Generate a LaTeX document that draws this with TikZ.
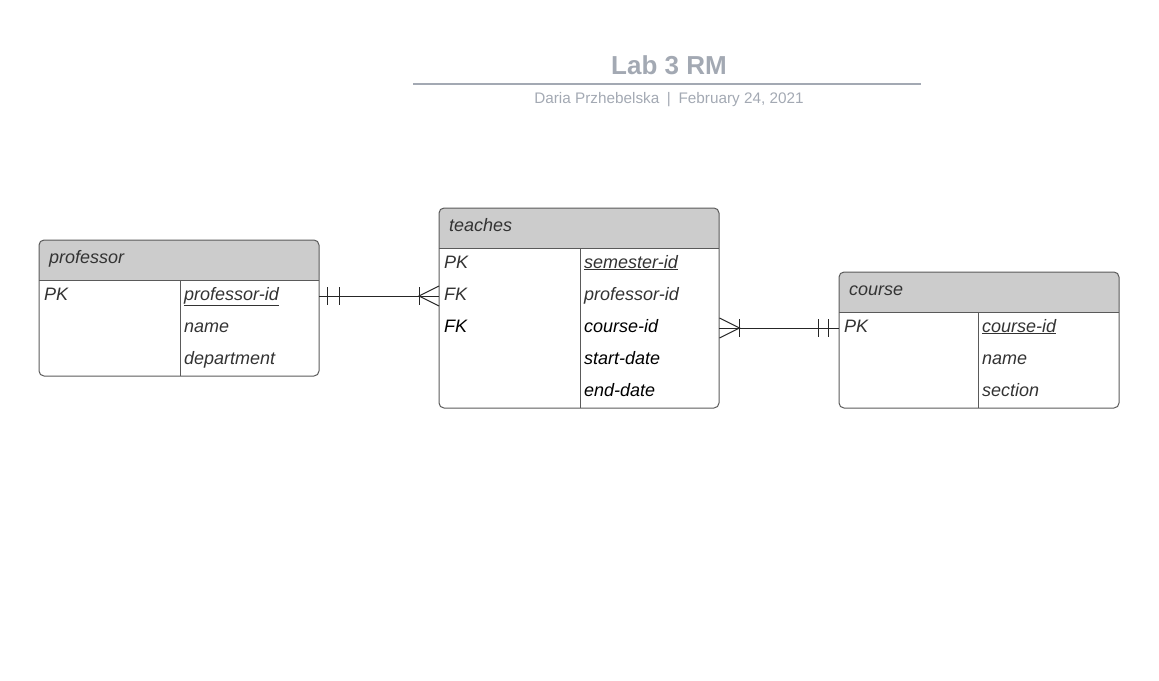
\documentclass[tikz,border=0pt]{standalone}
\usepackage{fontspec}
\setmainfont{Liberation Sans}
\usetikzlibrary{calc}
\definecolor{hdrgray}{HTML}{CCCCCC}
\definecolor{framegray}{HTML}{5A5A5A}
\definecolor{textgray}{HTML}{333333}
\definecolor{titlegray}{RGB}{163,169,179}
\tikzset{
	field/.style={anchor=west, inner xsep=4pt, inner ysep=0pt, text width=131pt, align=left,
		text height=12pt, text depth=4pt, font=\fontsize{18}{20}\selectfont\itshape, text=textgray},
	keyfield/.style={field, inner xsep=5pt},
	hdrlabel/.style={field, inner xsep=10pt, text width=260pt},
	frame/.style={draw=framegray, line width=1pt, rounded corners=5pt},
	conn/.style={draw=black!85, line width=1pt}
}
\begin{document}
\begin{tikzpicture}[x=1pt, y=-1pt]
	\useasboundingbox (0,0) rectangle (1159,680);
	\node[font=\fontsize{26}{30}\selectfont\bfseries, text=titlegray] (title) at (669,65) {Lab 3 RM};
	\draw[titlegray, line width=2pt] (413,84) -- (921,84);
	\node[font=\fontsize{15.3}{18}\selectfont, text=titlegray] (byline) at (669,99.5) {Daria Przhebelska\enspace|\enspace February 24, 2021};

	\fill[hdrgray, rounded corners=5pt] (39,240) rectangle (319,280);
	\fill[hdrgray] (39,262) rectangle (319,280);
	\draw[frame] (39,240) rectangle (319,376);
	\draw[framegray, line width=1pt] (39,280) -- (319,280) (180,280) -- (180,376);
	\node[hdrlabel] (professor) at (39,259) {professor};
	\node[keyfield] (prof-pk) at (39,296) {PK};
	\node[field] (prof-id) at (180,296) {\underline{professor-id}};
	\foreach \n/\y/\t in {prof-name/328/name, prof-dept/360/department} {
		\node[field] (\n) at (180,\y) {\t};
	}

	\fill[hdrgray, rounded corners=5pt] (439,208) rectangle (719,248);
	\fill[hdrgray] (439,230) rectangle (719,248);
	\draw[frame] (439,208) rectangle (719,408);
	\draw[framegray, line width=1pt] (439,248) -- (719,248) (580,248) -- (580,408);
	\node[hdrlabel] (teaches) at (439,227) {teaches};
	\node[keyfield] (teach-pk) at (439,264) {PK};
	\node[keyfield] (teach-fk1) at (439,296) {FK};
	\node[keyfield, text=black] (teach-fk2) at (439,328) {FK};
	\node[field] (teach-sid) at (580,264) {\underline{semester-id}};
	\node[field] (teach-pid) at (580,296) {professor-id};
	\foreach \n/\y/\t in {teach-cid/328/course-id, teach-start/360/start-date, teach-end/392/end-date} {
		\node[field, text=black] (\n) at (580,\y) {\t};
	}

	\fill[hdrgray, rounded corners=5pt] (839,272) rectangle (1119,312);
	\fill[hdrgray] (839,294) rectangle (1119,312);
	\draw[frame] (839,272) rectangle (1119,408);
	\draw[framegray, line width=1pt] (839,312) -- (1119,312) (978,312) -- (978,408);
	\node[hdrlabel] (course) at (839,291) {course};
	\node[keyfield] (course-pk) at (839,328) {PK};
	\node[field] (course-id) at (978,328) {\underline{course-id}};
	\foreach \n/\y/\t in {course-name/360/name, course-sec/392/section} {
		\node[field] (\n) at (978,\y) {\t};
	}

	\draw[conn] (prof-id.east) -- (teach-fk1.west);
	\draw[conn] ([xshift=8pt]prof-id.east) +(0,-9) -- +(0,9);
	\draw[conn] ([xshift=20pt]prof-id.east) +(0,-9) -- +(0,9);
	\draw[conn] ([xshift=-20pt]teach-fk1.west) +(0,-9) -- +(0,9);
	\draw[conn] ([yshift=10pt]teach-fk1.west) -- ([xshift=-20pt]teach-fk1.west) -- ([yshift=-10pt]teach-fk1.west);

	\draw[conn] (teach-cid.east) -- (course-pk.west);
	\draw[conn] ([xshift=20pt]teach-cid.east) +(0,-9) -- +(0,9);
	\draw[conn] ([yshift=10pt]teach-cid.east) -- ([xshift=20pt]teach-cid.east) -- ([yshift=-10pt]teach-cid.east);
	\draw[conn] ([xshift=-11pt]course-pk.west) +(0,-9) -- +(0,9);
	\draw[conn] ([xshift=-21pt]course-pk.west) +(0,-9) -- +(0,9);
\end{tikzpicture}
\end{document}
